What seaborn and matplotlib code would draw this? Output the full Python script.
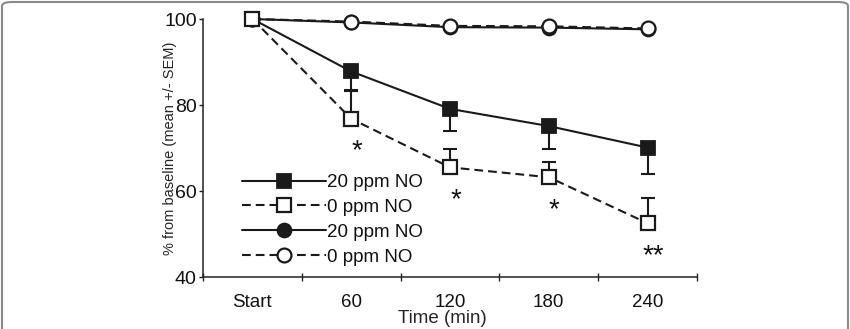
import matplotlib
matplotlib.use("Agg")
import matplotlib.pyplot as plt
from matplotlib import font_manager
from matplotlib.lines import Line2D
from matplotlib.patches import FancyBboxPatch
import numpy as np
import seaborn as sns

# ---- data ----
categories = ["Start", "60", "120", "180", "240"]
sq_20 = [100, 87.8, 79.1, 75.1, 70.1]          # filled squares
sq_20_low = [100, 83.6, 74.0, 69.8, 63.9]      # lower SEM bound
sq_0 = [100, 76.8, 65.5, 63.2, 52.5]           # open squares
sq_0_high = [100, 83.3, 69.8, 66.7, 58.3]      # upper SEM bound
ci_20 = [100, 99.2, 98.1, 98.0, 97.6]          # filled circles
ci_0 = [100, 99.4, 98.4, 98.3, 97.8]           # open circles
y_ticks = [40, 60, 80, 100]
stars = ["", "*", "*", "*", "**"]
legend_labels = ["20 ppm NO", "0 ppm NO", "20 ppm NO", "0 ppm NO"]

sns.set_theme(style="ticks")
plt.rcParams["font.family"] = ["Liberation Sans", "DejaVu Sans"]
plt.rcParams["text.color"] = "#111111"

have_narrow = any("Narrow" in f.name for f in font_manager.fontManager.ttflist)
if have_narrow:
    ytick_font = dict(family=["Liberation Sans Narrow", "Liberation Sans"], size=14)
else:
    ytick_font = dict(family=["Liberation Sans", "DejaVu Sans"], size=12)

fig = plt.figure(figsize=(8.5, 3.29), dpi=100)
fig.patch.set_facecolor("white")
ax = fig.add_axes([203 / 850, 1 - 277 / 329, 494 / 850, 258 / 329])

x = np.arange(len(categories))
dash = (0, (4.2, 2.4))
lw = 1.5
ms = 10

# circles (drawn first; largely hidden)
sns.lineplot(x=x, y=ci_20, ax=ax, color="k", lw=lw, marker="o", markersize=ms,
             markerfacecolor="k", markeredgecolor="k", markeredgewidth=1.3,
             sort=False, legend=False, zorder=3, clip_on=False)
sns.lineplot(x=x, y=ci_0, ax=ax, color="k", lw=lw, linestyle=dash, marker="o",
             markersize=ms, markerfacecolor="white", markeredgecolor="k",
             markeredgewidth=1.6, sort=False, legend=False, zorder=4, clip_on=False)

# error bars (one-sided)
y20 = np.array(sq_20)
y0 = np.array(sq_0)
ax.errorbar(x[1:], y20[1:], yerr=[y20[1:] - np.array(sq_20_low)[1:], np.zeros(4)],
            fmt="none", ecolor="k", elinewidth=1.5, capsize=5, capthick=1.5, zorder=2)
ax.errorbar(x[1:], y0[1:], yerr=[np.zeros(4), np.array(sq_0_high)[1:] - y0[1:]],
            fmt="none", ecolor="k", elinewidth=1.5, capsize=5, capthick=1.5, zorder=2)

# squares
sns.lineplot(x=x, y=sq_20, ax=ax, color="k", lw=lw, marker="s", markersize=ms,
             markerfacecolor="#1a1a1a", markeredgecolor="k", markeredgewidth=1.3,
             sort=False, legend=False, zorder=5, clip_on=False)
sns.lineplot(x=x, y=sq_0, ax=ax, color="k", lw=lw, linestyle=dash, marker="s",
             markersize=ms, markerfacecolor="white", markeredgecolor="k",
             markeredgewidth=1.6, sort=False, legend=False, zorder=6, clip_on=False)

# significance stars
for xi, yi, s in zip(x, sq_0, stars):
    if s:
        ax.annotate(s, (xi, yi), xytext=(4, -23.5), textcoords="offset points",
                    ha="center", va="center", fontsize=20, color="#111111")

# axes styling
ax.set_xlim(-0.5, 4.5)
ax.set_ylim(40, 100)
ax.set_yticks(y_ticks, labels=[str(v) for v in y_ticks],
              fontfamily=ytick_font["family"], fontsize=ytick_font["size"])
ax.set_xticks(x)
ax.set_xticklabels(categories)
ax.set_xticks(np.arange(-0.5, 5.0, 1.0), minor=True)
ax.tick_params(axis="x", which="major", length=0, pad=12, labelsize=13.5)
ax.tick_params(axis="x", which="minor", direction="inout", length=6, width=1.0)
ax.tick_params(axis="y", which="major", direction="out", length=3, width=1.0, pad=1.5)
for sp in ["top", "right"]:
    ax.spines[sp].set_visible(False)
for sp in ["left", "bottom"]:
    ax.spines[sp].set_linewidth(1.1)
    ax.spines[sp].set_color("#222222")
ax.tick_params(colors="#222222", labelcolor="#111111")
ax.set_facecolor("white")
ax.grid(False)

ax.set_ylabel("% from baseline (mean +/- SEM)", fontsize=10.5)
ax.yaxis.set_label_coords((177 - 203) / 494, 0.5)
ax.set_xlabel("Time (min)", fontsize=13.5)
ax.xaxis.set_label_coords((442 - 203) / 494, (277 - 310) / 258)

# legend
handles = [
    Line2D([], [], color="k", lw=lw, marker="s", markersize=ms,
           markerfacecolor="#1a1a1a", markeredgecolor="k", markeredgewidth=1.3),
    Line2D([], [], color="k", lw=lw, linestyle=dash, marker="s", markersize=ms,
           markerfacecolor="white", markeredgecolor="k", markeredgewidth=1.6),
    Line2D([], [], color="k", lw=lw, marker="o", markersize=ms,
           markerfacecolor="#1a1a1a", markeredgecolor="k", markeredgewidth=1.3),
    Line2D([], [], color="k", lw=lw, linestyle=dash, marker="o", markersize=ms,
           markerfacecolor="white", markeredgecolor="k", markeredgewidth=1.6),
]
ax.legend(handles, legend_labels, loc="upper left",
          bbox_to_anchor=((242 - 203) / 494, (277 - 174) / 258),
          frameon=False, fontsize=13.5, handlelength=4.5, handletextpad=0.05,
          labelspacing=0.41, borderpad=0, borderaxespad=0, numpoints=1)

# image frame
frame = FancyBboxPatch((2 / 850, -0.1), 846 / 850, 1.1 - 2 / 329,
                       boxstyle="round,pad=0,rounding_size=0.012",
                       transform=fig.transFigure, facecolor="none",
                       edgecolor="#8a8a8a", lw=1.5, clip_on=False)
fig.patches.append(frame)

fig.savefig("out.png", dpi=100, facecolor="white")
